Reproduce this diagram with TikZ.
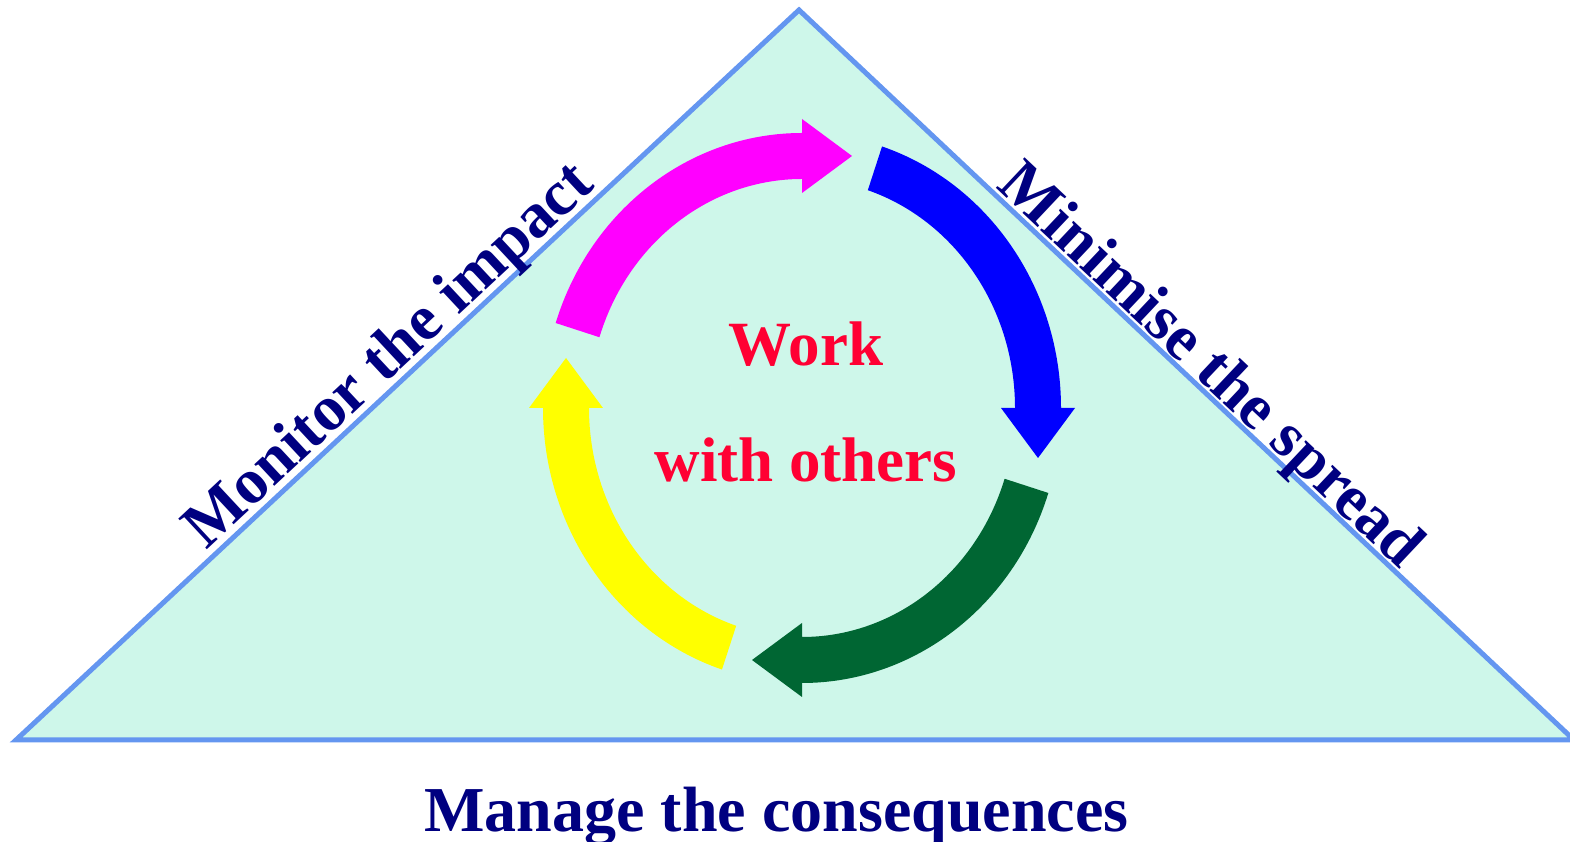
\documentclass[tikz,border=0pt]{standalone}
\usepackage{fontspec}
\setmainfont{Liberation Serif}
\definecolor{edgeblue}{RGB}{100,150,240}
\definecolor{mint}{RGB}{206,247,234}
\definecolor{navytext}{RGB}{0,0,128}
\definecolor{redtext}{RGB}{255,0,51}
\definecolor{arrmag}{RGB}{255,0,255}
\definecolor{arrblue}{RGB}{0,0,255}
\definecolor{arrgreen}{RGB}{0,102,51}
\definecolor{arryellow}{RGB}{255,255,0}
\begin{document}
\begin{tikzpicture}[x=1pt,y=1pt,
  lbl/.style={font=\bfseries\fontsize{64}{70}\selectfont, text=navytext, inner sep=0pt},
  ctr/.style={font=\bfseries\fontsize{63}{70}\selectfont, text=redtext, inner sep=0pt},
  tri/.style={draw=edgeblue, line width=5pt, fill=mint, line join=miter}]
\useasboundingbox (0,0) rectangle (1570,842);
\clip (0,0) rectangle (1570,842);
% triangle
\draw[tri] (16,102) -- (799,832) -- (1574,102) -- cycle;
% arrows (ellipse ring centred at (802,434))
\begin{scope}[shift={(802,434)}]
\fill[arrmag] (162:259 and 275) arc[start angle=162,end angle=90,x radius=259,y radius=275]
  -- (0,289) -- (50,252) -- (0,215) -- (90:213 and 229)
  arc[start angle=90,end angle=162,x radius=213,y radius=229] -- cycle;
\fill[arrblue] (72:259 and 275) arc[start angle=72,end angle=0,x radius=259,y radius=275]
  -- (273,0) -- (236,-50) -- (199,0) -- (0:213 and 229)
  arc[start angle=0,end angle=72,x radius=213,y radius=229] -- cycle;
\fill[arrgreen] (-18:259 and 275) arc[start angle=-18,end angle=-90,x radius=259,y radius=275]
  -- (0,-289) -- (-50,-252) -- (0,-215) -- (-90:213 and 229)
  arc[start angle=-90,end angle=-18,x radius=213,y radius=229] -- cycle;
\fill[arryellow] (-108:259 and 275) arc[start angle=-108,end angle=-180,x radius=259,y radius=275]
  -- (-273,0) -- (-236,50) -- (-199,0) -- (-180:213 and 229)
  arc[start angle=-180,end angle=-108,x radius=213,y radius=229] -- cycle;
\end{scope}
% texts
\node[ctr, anchor=base] (work) at (806,476) {Work};
\node[ctr, anchor=base] (others) at (806,360) {with others};
\node[lbl, anchor=base, rotate=43] (monitor) at (401,473) {Monitor the impact};
\node[lbl, anchor=base, rotate=-43.3] (minimise) at (1198,463) {Minimise the spread};
\node[lbl, anchor=base] (manage) at (776.5,10) {Manage the consequences};
\end{tikzpicture}
\end{document}
